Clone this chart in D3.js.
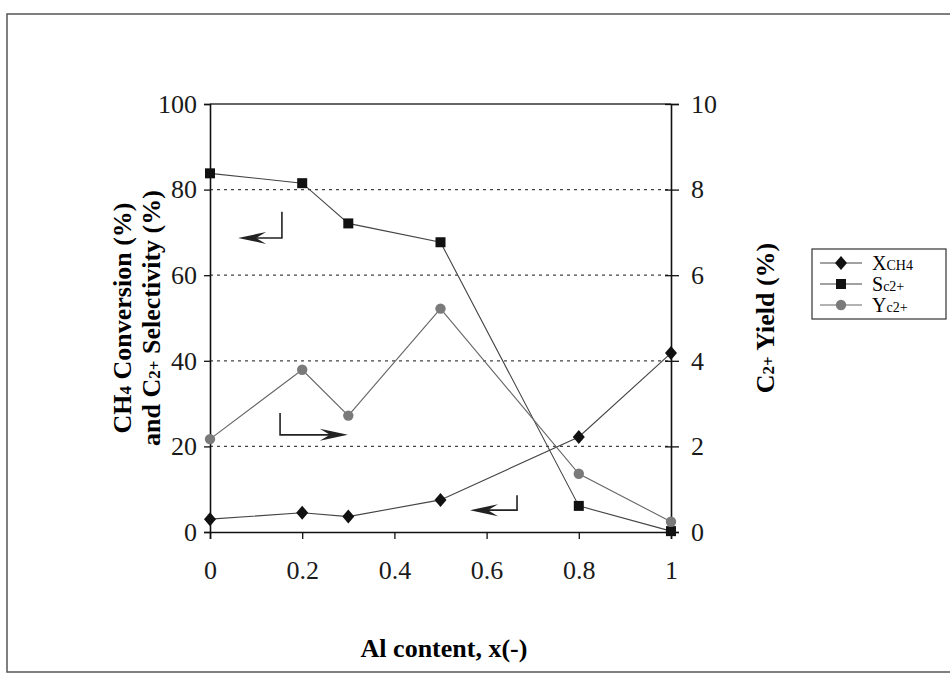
<!DOCTYPE html>
<meta charset="utf-8">
<style>
body { margin: 0; background: #fff; }
svg { font-family: "Liberation Serif", "DejaVu Serif", serif; }
.tick text { font-size: 26px; fill: #1a1a1a; }
.grid line { stroke: #444; stroke-dasharray: 3,4; stroke-width: 1.2px; }
</style>
<svg width="950" height="675"></svg>
<script src="https://d3js.org/d3.v7.min.js"></script>
<script>

// data
var alContent = [0, 0.2, 0.3, 0.5, 0.8, 1];
var xCH4 = [3.0, 4.5, 3.6, 7.5, 22.2, 41.8];      // left axis (%)
var sC2 = [83.8, 81.5, 72.1, 67.7, 6.1, 0.2];    // left axis (%)
var yC2 = [2.17, 3.79, 2.72, 5.22, 1.36, 0.24];  // right axis (%)

var xTicks = [0, 0.2, 0.4, 0.6, 0.8, 1];
var leftTicks = [0, 20, 40, 60, 80, 100];
var rightTicks = [0, 2, 4, 6, 8, 10];

// arrow annotations in data units [x of vertical, y top, y corner, x tip]
var arrows = [
  {x: 0.156, y1: 74.8, y2: 68.7, tip: 0.061},
  {x: 0.152, y1: 27.8, y2: 22.7, tip: 0.299},
  {x: 0.666, y1: 8.6, y2: 5.1, tip: 0.564}
];

var svg = d3.select("svg");

// outer frame
svg.append("rect")
  .attr("x", 7).attr("y", 14)
  .attr("width", 960).attr("height", 658)
  .attr("fill", "none").attr("stroke", "#555").attr("stroke-width", 1.5);

var pLeft = 210, pRight = 671, pTop = 104, pBottom = 532;

var x = d3.scaleLinear().domain([0, 1]).range([pLeft, pRight]);
var yL = d3.scaleLinear().domain([0, 100]).range([pBottom, pTop]);
var yR = d3.scaleLinear().domain([0, 10]).range([pBottom, pTop]);

// dotted grid
svg.append("g").attr("class", "grid")
  .selectAll("line")
  .data(leftTicks.filter(function(d) { return d > 0 && d < 100; }))
  .enter().append("line")
  .attr("x1", pLeft).attr("x2", pRight)
  .attr("y1", function(d) { return yL(d); })
  .attr("y2", function(d) { return yL(d); });

// top border
svg.append("line")
  .attr("x1", pLeft).attr("x2", pRight)
  .attr("y1", pTop).attr("y2", pTop)
  .attr("stroke", "#333").attr("stroke-width", 1.5);

// axes
svg.append("g")
  .attr("transform", "translate(0," + pBottom + ")")
  .call(d3.axisBottom(x).tickValues(xTicks).tickSize(7).tickPadding(22)
    .tickFormat(function(d) { return d === 0 || d === 1 ? d : d.toFixed(1); }));

svg.append("g")
  .attr("transform", "translate(" + pLeft + ",0)")
  .call(d3.axisLeft(yL).tickValues(leftTicks).tickSize(6).tickPadding(7));

var yAxisR = svg.append("g")
  .attr("transform", "translate(" + pRight + ",0)")
  .call(d3.axisRight(yR).tickValues(rightTicks).tickSize(8).tickPadding(12));

yAxisR.selectAll(".tick line").attr("x1", -6);

svg.selectAll(".domain").attr("stroke", "#111").attr("stroke-width", 1.6);
svg.selectAll(".tick line").attr("stroke", "#111").attr("stroke-width", 1.3);
svg.selectAll(".tick text").attr("font-family", "Liberation Serif");

// lines
function makeLine(yScale, vals) {
  return d3.line()
    .x(function(d, i) { return x(alContent[i]); })
    .y(function(d) { return yScale(d); })(vals);
}

svg.append("path").attr("d", makeLine(yL, xCH4))
  .attr("fill", "none").attr("stroke", "#444").attr("stroke-width", 1.1);
svg.append("path").attr("d", makeLine(yL, sC2))
  .attr("fill", "none").attr("stroke", "#444").attr("stroke-width", 1.1);
svg.append("path").attr("d", makeLine(yR, yC2))
  .attr("fill", "none").attr("stroke", "#666").attr("stroke-width", 1.1);

var diamond = "M0,-7L6,0L0,7L-6,0Z";

svg.append("g").selectAll("path")
  .data(xCH4).enter().append("path")
  .attr("d", diamond)
  .attr("transform", function(d, i) { return "translate(" + x(alContent[i]) + "," + yL(d) + ")"; })
  .attr("fill", "#111");

svg.append("g").selectAll("rect")
  .data(sC2).enter().append("rect")
  .attr("x", function(d, i) { return x(alContent[i]) - 5; })
  .attr("y", function(d) { return yL(d) - 5; })
  .attr("width", 10).attr("height", 10)
  .attr("fill", "#111");

svg.append("g").selectAll("circle")
  .data(yC2).enter().append("circle")
  .attr("cx", function(d, i) { return x(alContent[i]); })
  .attr("cy", function(d) { return yR(d); })
  .attr("r", 5.2)
  .attr("fill", "#7a7a7a");

// arrows
arrows.forEach(function(a) {
  var cx = x(a.x), cy = yL(a.y2), tx = x(a.tip);
  var dir = tx < cx ? -1 : 1;
  svg.append("path")
    .attr("d", "M" + cx + "," + yL(a.y1) + "L" + cx + "," + cy + "L" + (tx - dir * 6) + "," + cy)
    .attr("fill", "none").attr("stroke", "#222").attr("stroke-width", 1.6);
  svg.append("path")
    .attr("d", "M" + tx + "," + cy +
      "L" + (tx - dir * 28) + "," + (cy - 6) +
      "L" + (tx - dir * 18) + "," + cy +
      "L" + (tx - dir * 28) + "," + (cy + 6) + "Z")
    .attr("fill", "#222");
});

// axis titles
var ly = 318;
var t1 = svg.append("text")
  .attr("transform", "translate(131," + ly + ") rotate(-90)")
  .attr("text-anchor", "middle")
  .attr("font-weight", "bold").attr("font-size", 26);
t1.append("tspan").text("CH");
t1.append("tspan").attr("font-size", 17).text("4");
t1.append("tspan").text(" Conversion (%)");

var t2 = svg.append("text")
  .attr("transform", "translate(160," + ly + ") rotate(-90)")
  .attr("text-anchor", "middle")
  .attr("font-weight", "bold").attr("font-size", 26);
t2.append("tspan").text("and C");
t2.append("tspan").attr("font-size", 17).text("2+");
t2.append("tspan").text(" Selectivity (%)");

var t3 = svg.append("text")
  .attr("transform", "translate(774," + ly + ") rotate(-90)")
  .attr("text-anchor", "middle")
  .attr("font-weight", "bold").attr("font-size", 26);
t3.append("tspan").text("C");
t3.append("tspan").attr("font-size", 17).text("2+");
t3.append("tspan").text(" Yield (%)");

svg.append("text")
  .attr("x", 444).attr("y", 657)
  .attr("text-anchor", "middle")
  .attr("font-weight", "bold").attr("font-size", 26)
  .text("Al content, x(-)");

// legend
var legendNames = [["X", "CH4"], ["S", "c2+"], ["Y", "c2+"]];
var leg = svg.append("g").attr("transform", "translate(812,249)");
leg.append("rect")
  .attr("width", 134).attr("height", 70)
  .attr("fill", "#fff").attr("stroke", "#333").attr("stroke-width", 1.2);

legendNames.forEach(function(n, i) {
  var yy = 14 + i * 21;
  var col = i === 2 ? "#666" : "#444";
  leg.append("line").attr("x1", 8).attr("x2", 50)
    .attr("y1", yy).attr("y2", yy).attr("stroke", col).attr("stroke-width", 1.1);
  if (i === 0) {
    leg.append("path").attr("d", diamond).attr("transform", "translate(29," + yy + ")").attr("fill", "#111");
  } else if (i === 1) {
    leg.append("rect").attr("x", 24).attr("y", yy - 5).attr("width", 10).attr("height", 10).attr("fill", "#111");
  } else {
    leg.append("circle").attr("cx", 29).attr("cy", yy).attr("r", 5.2).attr("fill", "#7a7a7a");
  }
  var t = leg.append("text").attr("x", 60).attr("y", yy + 7).attr("font-size", 20);
  t.append("tspan").text(n[0]);
  t.append("tspan").attr("font-size", 14).text(n[1]);
});

</script>
